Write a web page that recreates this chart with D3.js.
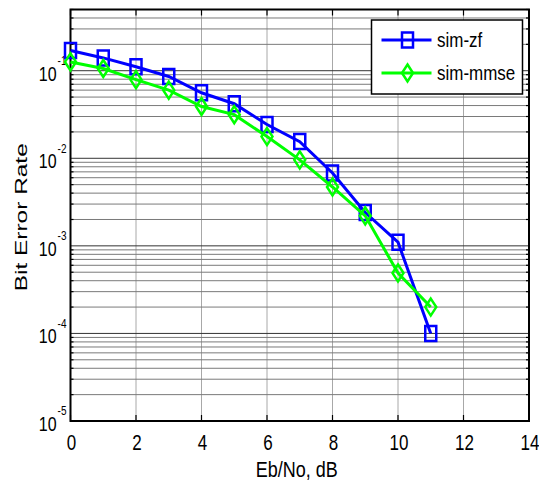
<!DOCTYPE html>
<html>
<head>
<meta charset="utf-8">
<script src="https://cdn.jsdelivr.net/npm/d3@7"></script>
<style>
    body { margin: 0; background: #fff; }
    text { font-family: Arial, "Liberation Sans", sans-serif; fill: #000; }
</style>
</head>
<body>
<svg id="chart" width="539" height="482"></svg>
<script>
// Eb/No (dB) and measured bit error rates
const snrDb = [0, 1, 2, 3, 4, 5, 6, 7, 8, 9, 10, 11];
const berZf = [0.17, 0.14, 0.111, 0.086, 0.056, 0.042, 0.0243, 0.0155, 0.0068, 0.0024, 0.0011, 0.0001];
const berMmse = [0.126, 0.106, 0.079, 0.060, 0.039, 0.0315, 0.0177, 0.0096, 0.0047, 0.0022, 0.00049, 0.0002];
const xTicks = [0, 2, 4, 6, 8, 10, 12, 14];
const yDecades = [-5, -4, -3, -2, -1];
const seriesNames = ["sim-zf", "sim-mmse"];

const plotLeft = 70.5, plotRight = 529, plotTop = 9.5, plotBottom = 421;
const svg = d3.select("#chart");

const x = d3.scaleLinear().domain([0, 14]).range([plotLeft, plotRight]);
const y = d3.scaleLog().domain([1e-5, 0.5]).range([plotBottom, plotTop]);

// minor values for the log grid
const minors = [];
for (const e of yDecades) {
    for (let m = 2; m <= 9; m++) {
        const v = m * Math.pow(10, e);
        if (v <= 0.5) minors.push(v);
    }
}

const grid = svg.append("g");
grid.selectAll(".vgrid")
    .data(xTicks.slice(1, -1))
    .enter()
    .append("line")
    .attr("x1", (d) => x(d)).attr("x2", (d) => x(d))
    .attr("y1", plotTop).attr("y2", plotBottom)
    .attr("stroke", "#a8a8a8")
    .attr("stroke-width", 1);
grid.selectAll(".mgrid")
    .data(minors)
    .enter()
    .append("line")
    .attr("x1", plotLeft).attr("x2", plotRight)
    .attr("y1", (d) => y(d)).attr("y2", (d) => y(d))
    .attr("stroke", "#7a7a7a")
    .attr("stroke-width", 1);
grid.selectAll(".dgrid")
    .data(yDecades.slice(1))
    .enter()
    .append("line")
    .attr("x1", plotLeft).attr("x2", plotRight)
    .attr("y1", (d) => y(Math.pow(10, d))).attr("y2", (d) => y(Math.pow(10, d)))
    .attr("stroke", "#333")
    .attr("stroke-width", 1);

// tick marks (inside, both sides like the frame of the original)
const ticks = svg.append("g").attr("stroke", "#000").attr("stroke-width", 1.2);
xTicks.forEach((t) => {
    ticks.append("line").attr("x1", x(t)).attr("x2", x(t)).attr("y1", plotBottom).attr("y2", plotBottom - 6);
    ticks.append("line").attr("x1", x(t)).attr("x2", x(t)).attr("y1", plotTop).attr("y2", plotTop + 6);
});
minors.forEach((v) => {
    ticks.append("line").attr("x1", plotLeft).attr("x2", plotLeft + 3).attr("y1", y(v)).attr("y2", y(v));
    ticks.append("line").attr("x1", plotRight).attr("x2", plotRight - 3).attr("y1", y(v)).attr("y2", y(v));
});

// frame
svg.append("rect")
    .attr("x", plotLeft).attr("y", plotTop)
    .attr("width", plotRight - plotLeft).attr("height", plotBottom - plotTop)
    .attr("fill", "none")
    .attr("stroke", "#000")
    .attr("stroke-width", 2);

// x tick labels
svg.append("g")
    .selectAll("text")
    .data(xTicks)
    .enter()
    .append("text")
    .attr("transform", (d) => `translate(${x(d) + 1},450) scale(1,1.3)`)
    .attr("text-anchor", "middle")
    .attr("font-size", 17)
    .text((d) => d);

// y tick labels 10^e
const yl = svg.append("g")
    .selectAll("g")
    .data(yDecades)
    .enter()
    .append("g")
    .attr("transform", (d) => `translate(${plotLeft - 4},${y(Math.pow(10, d)) + 10}) scale(1,1.3)`);
yl.append("text")
    .attr("text-anchor", "end")
    .selectAll("tspan")
    .data((d) => [{ t: "10", s: false }, { t: String(d), s: true }])
    .enter()
    .append("tspan")
    .attr("font-size", (d) => (d.s ? 10 : 16))
    .attr("dx", (d) => (d.s ? 1 : 0))
    .attr("dy", (d) => (d.s ? -12 : 0))
    .text((d) => d.t);

// axis titles
svg.append("text")
    .attr("transform", `translate(${(plotLeft + plotRight) / 2 - 3},477) scale(1,1.22)`)
    .attr("text-anchor", "middle")
    .attr("font-size", 18)
    .text("Eb/No, dB");
svg.append("text")
    .attr("transform", `translate(27,${(plotTop + plotBottom) / 2 + 2}) rotate(-90)`)
    .attr("text-anchor", "middle")
    .attr("font-size", 17)
    .attr("textLength", 148)
    .attr("lengthAdjust", "spacingAndGlyphs")
    .text("Bit Error Rate");

// series
const lineGen = d3.line()
    .x((d) => x(d[0]))
    .y((d) => y(d[1]));

const squarePath = "M-5.5,-7.5H5.5V7.5H-5.5Z";
const diamondPath = "M0,-8.5L5.5,0L0,8.5L-5.5,0Z";

const series = [
    { name: seriesNames[0], color: "#0000ff", values: berZf, marker: squarePath },
    { name: seriesNames[1], color: "#00ff00", values: berMmse, marker: diamondPath },
];

series.forEach((s) => {
    const pts = snrDb.map((v, i) => [v, s.values[i]]);
    const g = svg.append("g");
    g.append("path")
        .attr("d", lineGen(pts))
        .attr("fill", "none")
        .attr("stroke", s.color)
        .attr("stroke-width", 3);
    g.selectAll("path.mk")
        .data(pts)
        .enter()
        .append("path")
        .attr("class", "mk")
        .attr("d", s.marker)
        .attr("transform", (d) => `translate(${x(d[0])},${y(d[1])})`)
        .attr("fill", "none")
        .attr("stroke", s.color)
        .attr("stroke-width", 2.5);
});

// legend
const legend = svg.append("g");
legend.append("rect")
    .attr("x", 371.5).attr("y", 20)
    .attr("width", 151).attr("height", 74)
    .attr("fill", "#fff")
    .attr("stroke", "#000")
    .attr("stroke-width", 1.5);
series.forEach((s, i) => {
    const ly = 40 + i * 33;
    legend.append("line")
        .attr("x1", 381.5).attr("x2", 431.5)
        .attr("y1", ly).attr("y2", ly)
        .attr("stroke", s.color)
        .attr("stroke-width", 3);
    legend.append("path")
        .attr("d", s.marker)
        .attr("transform", `translate(407.5,${ly})`)
        .attr("fill", "none")
        .attr("stroke", s.color)
        .attr("stroke-width", 2.5);
    legend.append("text")
        .attr("transform", `translate(437,${ly + 7}) scale(1,1.15)`)
        .attr("font-size", 17)
        .text(s.name);
});
</script>
</body>
</html>
